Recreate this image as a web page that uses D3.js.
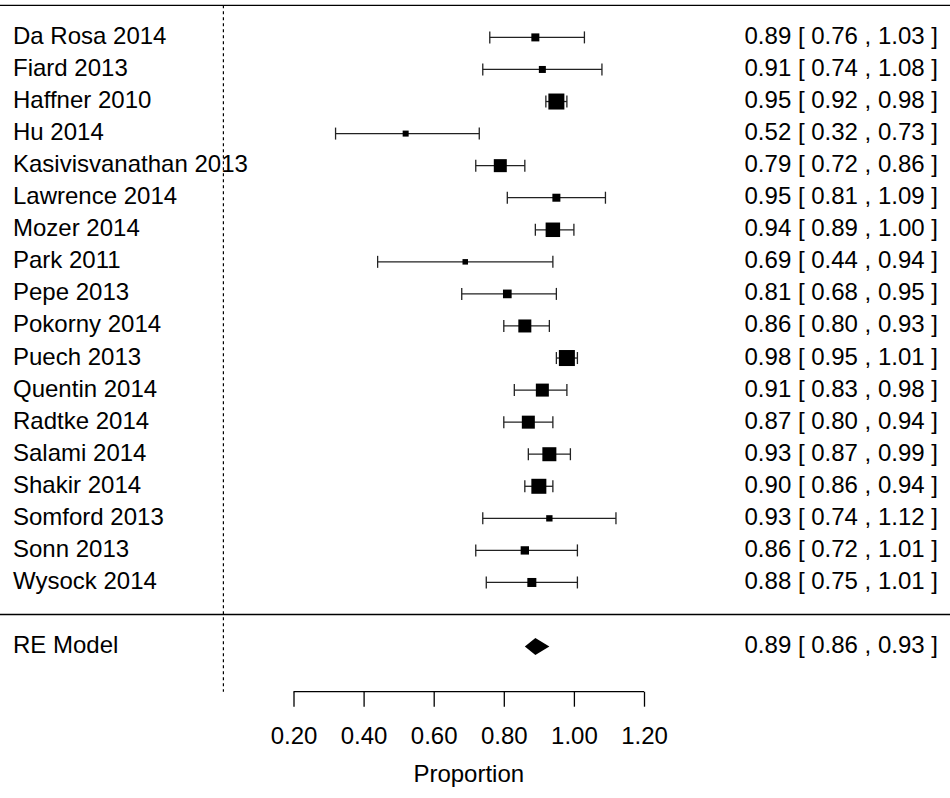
<!DOCTYPE html>
<html>
<head>
<meta charset="utf-8">
<script src="https://cdn.jsdelivr.net/npm/d3@7"></script>
<style>
  body { margin: 0; background: #fff; }
  svg text { font-family: "Liberation Sans", Arial, Helvetica, sans-serif; font-size: 24px; fill: #000; }
</style>
</head>
<body>
<div id="forest"></div>
<script>
const studies = ['Da Rosa 2014', 'Fiard 2013', 'Haffner 2010', 'Hu 2014', 'Kasivisvanathan 2013',
  'Lawrence 2014', 'Mozer 2014', 'Park 2011', 'Pepe 2013', 'Pokorny 2014', 'Puech 2013',
  'Quentin 2014', 'Radtke 2014', 'Salami 2014', 'Shakir 2014', 'Somford 2013', 'Sonn 2013', 'Wysock 2014'];
const est   = [0.89, 0.91, 0.95, 0.52, 0.79, 0.95, 0.94, 0.69, 0.81, 0.86, 0.98, 0.91, 0.87, 0.93, 0.90, 0.93, 0.86, 0.88];
const lower = [0.76, 0.74, 0.92, 0.32, 0.72, 0.81, 0.89, 0.44, 0.68, 0.80, 0.95, 0.83, 0.80, 0.87, 0.86, 0.74, 0.72, 0.75];
const upper = [1.03, 1.08, 0.98, 0.73, 0.86, 1.09, 1.00, 0.94, 0.95, 0.93, 1.01, 0.98, 0.94, 0.99, 0.94, 1.12, 1.01, 1.01];
// study weights (%), only used to size the squares
const weights = [3.7, 3.1, 8.5, 2.5, 6.7, 3.7, 7.6, 2.2, 4.1, 6.7, 8.5, 6.7, 6.7, 7.3, 7.9, 2.7, 3.9, 4.3];
const reModel = [0.89, 0.86, 0.93]; // estimate, lower, upper
const xTicks = [0.2, 0.4, 0.6, 0.8, 1.0, 1.2];

const width = 950, height = 798;
const k = studies.length;

const svg = d3.select('#forest').append('svg')
  .attr('width', width)
  .attr('height', height);

const x = d3.scaleLinear().domain([0, 1]).range([223.4, 573.9]);
// rows counted like metafor: k at the top, 0 = separator, -1 = summary
const y = d3.scaleLinear().domain([k, -1]).range([37.4, 646.6]);
const size = d3.scaleLinear().domain(d3.extent(weights)).range([5.5, 16]);
const fmt = d3.format('.2f');

const rows = studies.map((s, i) => ({
  name: s, est: est[i], lb: lower[i], ub: upper[i], w: weights[i], row: k - i
}));

// horizontal rules
svg.append('line')
  .attr('x1', 0).attr('x2', width)
  .attr('y1', y(k + 1)).attr('y2', y(k + 1))
  .attr('stroke', '#000').attr('stroke-width', 1.4);
svg.append('line')
  .attr('x1', 0).attr('x2', width)
  .attr('y1', y(0)).attr('y2', y(0))
  .attr('stroke', '#000').attr('stroke-width', 1.4);

const axisY = 691.7;

// reference line at 0
svg.append('line')
  .attr('x1', x(0)).attr('x2', x(0))
  .attr('y1', y(k + 1)).attr('y2', axisY)
  .attr('stroke', '#000').attr('stroke-width', 1.2)
  .attr('stroke-dasharray', '3,3');

const g = svg.selectAll('.study')
  .data(rows)
  .enter().append('g')
    .attr('class', 'study');

g.append('line')
  .attr('x1', d => x(d.lb)).attr('x2', d => x(d.ub))
  .attr('y1', d => y(d.row)).attr('y2', d => y(d.row))
  .attr('stroke', '#222').attr('stroke-width', 1.3);

// whisker caps
['lb', 'ub'].forEach(key => {
  g.append('line')
    .attr('x1', d => x(d[key])).attr('x2', d => x(d[key]))
    .attr('y1', d => y(d.row) - 6).attr('y2', d => y(d.row) + 6)
    .attr('stroke', '#222').attr('stroke-width', 1.3);
});

g.append('rect')
  .attr('x', d => x(d.est) - size(d.w) / 2)
  .attr('y', d => y(d.row) - size(d.w) / 2)
  .attr('width', d => size(d.w))
  .attr('height', d => size(d.w))
  .attr('fill', '#000');

g.append('text')
  .attr('x', 13)
  .attr('y', d => y(d.row) + 6.5)
  .text(d => d.name);

g.append('text')
  .attr('x', 938)
  .attr('y', d => y(d.row) + 6.5)
  .attr('text-anchor', 'end')
  .text(d => `${fmt(d.est)} [ ${fmt(d.lb)} , ${fmt(d.ub)} ]`);

// summary diamond
const sy = y(-1);
svg.append('polygon')
  .attr('points', [
    [x(reModel[1]), sy], [x(reModel[0]), sy - 8.5],
    [x(reModel[2]), sy], [x(reModel[0]), sy + 8.5]
  ].map(p => p.join(',')).join(' '))
  .attr('fill', '#000');

svg.append('text')
  .attr('x', 13).attr('y', sy + 6.5)
  .text('RE Model');
svg.append('text')
  .attr('x', 938).attr('y', sy + 6.5)
  .attr('text-anchor', 'end')
  .text(`${fmt(reModel[0])} [ ${fmt(reModel[1])} , ${fmt(reModel[2])} ]`);

// x axis
const axis = svg.append('g')
  .attr('transform', `translate(0,${axisY})`)
  .call(d3.axisBottom(x).tickValues(xTicks).tickFormat(fmt).tickSize(15).tickPadding(20));
axis.select('.domain')
  .attr('d', `M${x(xTicks[0])},0H${x(xTicks[xTicks.length - 1])}`)
  .attr('stroke', '#000').attr('stroke-width', 1.3);
axis.selectAll('.tick line').attr('stroke', '#000').attr('stroke-width', 1.3);
axis.selectAll('text')
  .attr('font-size', 24)
  .attr('font-family', '"Liberation Sans", Arial, sans-serif')
  .attr('fill', '#000');

svg.append('text')
  .attr('x', x(0.7))
  .attr('y', 782)
  .attr('text-anchor', 'middle')
  .text('Proportion');
</script>
</body>
</html>
